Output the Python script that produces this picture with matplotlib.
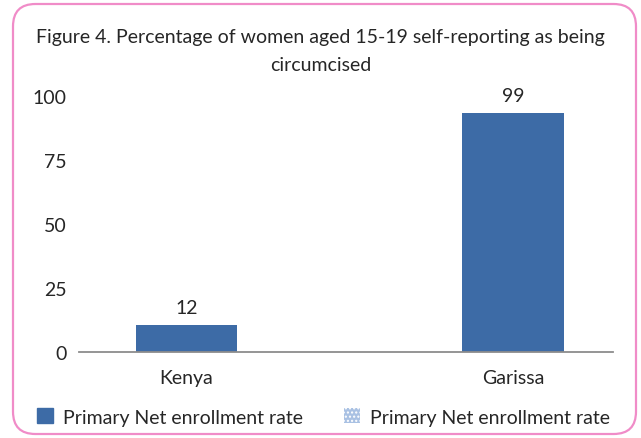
import matplotlib
matplotlib.use("Agg")
import matplotlib.pyplot as plt
from matplotlib.patches import FancyBboxPatch, Patch

categories = ["Kenya", "Garissa"]
bar_heights = [10.6, 93.6]
value_labels = ["12", "99"]
series_names = ["Primary Net enrollment rate", "Primary Net enrollment rate"]
y_ticks = [0, 25, 50, 75, 100]
title = "Figure 4. Percentage of women aged 15-19 self-reporting as being\ncircumcised"

plt.rcParams["font.family"] = ["Lato", "DejaVu Sans"]
bar_col = "#3D6BA6"
txt_col = "#262626"
fs = 14

fig = plt.figure(figsize=(6.41, 4.39), dpi=100)
ax = fig.add_axes([79/641, (439-353)/439, (613-79)/641, (353-97.5)/439])

x = [0, 1]
ax.bar(x, bar_heights, width=0.31, color=bar_col, zorder=2)
for xi, h, lab in zip(x, bar_heights, value_labels):
    ax.text(xi, h + 3.5, lab, ha="center", va="bottom", fontsize=fs, color=txt_col, clip_on=False)

ax.set_xlim(-0.329, 1.306)
ax.set_ylim(0, 100)
ax.set_xticks(x)
ax.set_xticklabels(categories, fontsize=fs, color=txt_col)
ax.set_yticks(y_ticks)
ax.set_yticklabels([str(t) for t in y_ticks], fontsize=fs, color=txt_col)
ax.tick_params(length=0, pad=9)
ax.tick_params(axis="x", pad=12)
for s in ["top", "right", "left"]:
    ax.spines[s].set_visible(False)
ax.spines["bottom"].set_color("#8C8C8C")
ax.spines["bottom"].set_linewidth(1.3)

fig.text(0.5, (439-51.5)/439, title, ha="center", va="center", fontsize=fs,
         color=txt_col, linespacing=1.85)

handles = [Patch(facecolor=bar_col, edgecolor=bar_col),
           Patch(facecolor="#A9C1E3", edgecolor="white", hatch="....", linewidth=0)]
fig.legend(handles, series_names, loc="center", bbox_to_anchor=(0.505, (439-418)/439),
           ncol=2, frameon=False, fontsize=fs, handlelength=0.8, handleheight=0.8,
           handletextpad=0.55, columnspacing=2.1, labelcolor=txt_col)

border = FancyBboxPatch((13/641, 4/439), (636-13)/641, (434-4)/439,
                        boxstyle="round,pad=0,rounding_size=0.035",
                        transform=fig.transFigure, facecolor="none",
                        edgecolor="#F08CC8", linewidth=1.6, mutation_aspect=641/439)
fig.patches.append(border)

fig.savefig("out.png", dpi=100)
